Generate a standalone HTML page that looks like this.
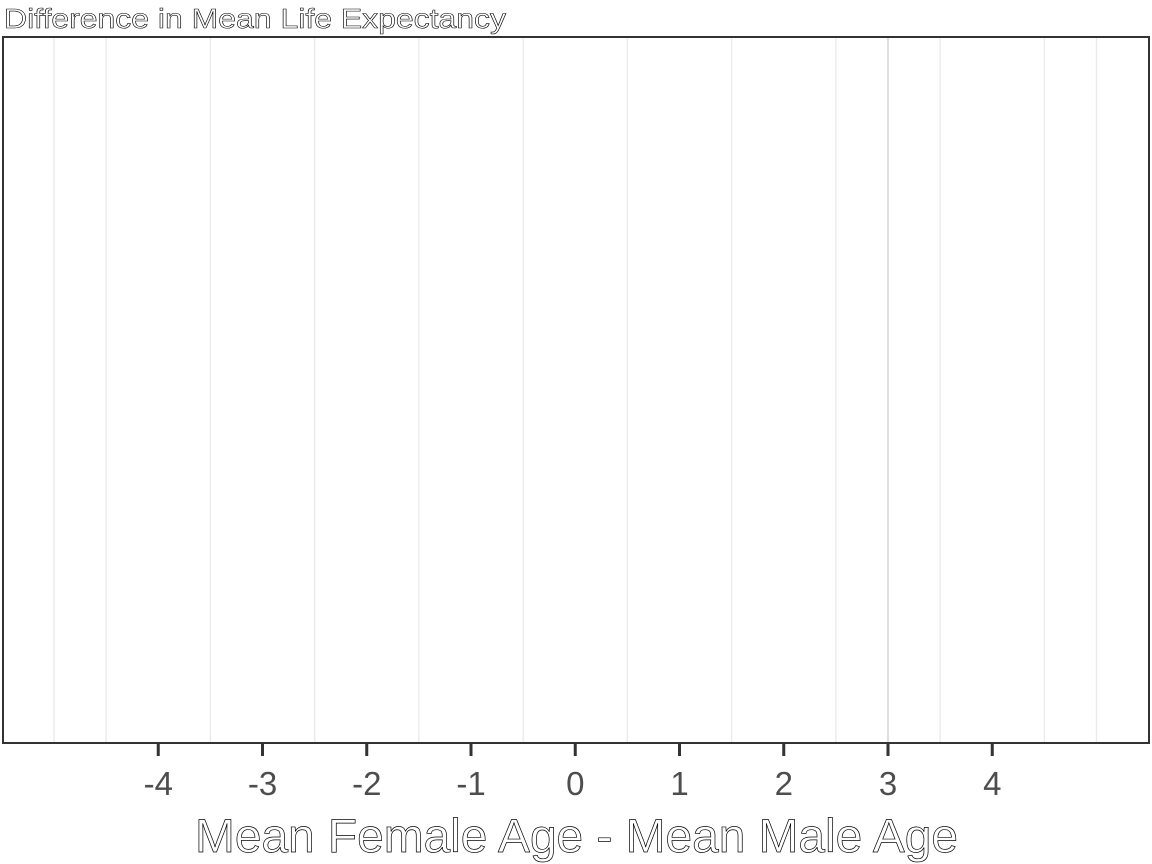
<!DOCTYPE html>
<html><head><meta charset="utf-8"><style>
html,body{margin:0;padding:0;background:#fff;}
svg{display:block;font-family:"Liberation Sans",sans-serif;}
</style></head><body>
<svg id="chart" width="1152" height="864" xmlns="http://www.w3.org/2000/svg">
<rect x="0" y="0" width="1152" height="864" fill="#fff"/>
<text x="4" y="28" font-size="28" textLength="502" lengthAdjust="spacingAndGlyphs" fill="#fff" stroke="#000" stroke-width="0.6">Difference in Mean Life Expectancy</text>
<g id="grid"></g>
<g id="marks"></g>
<rect x="3" y="37" width="1146" height="706" fill="none" stroke="#333" stroke-width="2"/>
<g id="ticks"></g>
<text x="195" y="852" font-size="47" textLength="763" lengthAdjust="spacingAndGlyphs" fill="#fff" stroke="#000" stroke-width="0.7">Mean Female Age - Mean Male Age</text>
</svg>
<script>
const tickValues = [-4, -3, -2, -1, 0, 1, 2, 3, 4];
const tickLabels = ["-4", "-3", "-2", "-1", "0", "1", "2", "3", "4"];
const gridValues = [-5, -4.5, -3.5, -2.5, -1.5, -0.5, 0.5, 1.5, 2.5, 3.5, 4.5, 5];
const markerValues = [3];

const NS = "http://www.w3.org/2000/svg";
const panelTop = 37, panelBottom = 743;
function xScale(v){ return 575.25 + v * 104.25; }
function mk(tag, attrs, parent){
  const e = document.createElementNS(NS, tag);
  for (const k in attrs) e.setAttribute(k, attrs[k]);
  parent.appendChild(e);
  return e;
}
const gridG = document.getElementById('grid');
gridValues.forEach(v => {
  const l = mk('line', {x1: xScale(v), x2: xScale(v), y1: panelTop, y2: panelBottom, stroke: '#ebebeb', 'stroke-width': 1.4}, gridG);
  
  
});
const marksG = document.getElementById('marks');
markerValues.forEach(v => {
  const l = mk('line', {x1: xScale(v), x2: xScale(v), y1: panelTop, y2: panelBottom, stroke: '#c8c8c8', 'stroke-width': 1.2}, marksG);
  
  
});
const ticksG = document.getElementById('ticks');
tickValues.forEach((v, i) => {
  const t = mk('line', {x1: xScale(v), x2: xScale(v), y1: 744, y2: 756, stroke: '#333', 'stroke-width': 3}, ticksG);
  
  
  const tx = mk('text', {x: xScale(v), y: 795, 'font-size': 33, 'text-anchor': 'middle', fill: '#4d4d4d'}, ticksG);
  tx.textContent = tickLabels[i];
  
  
});
</script>
</body></html>
